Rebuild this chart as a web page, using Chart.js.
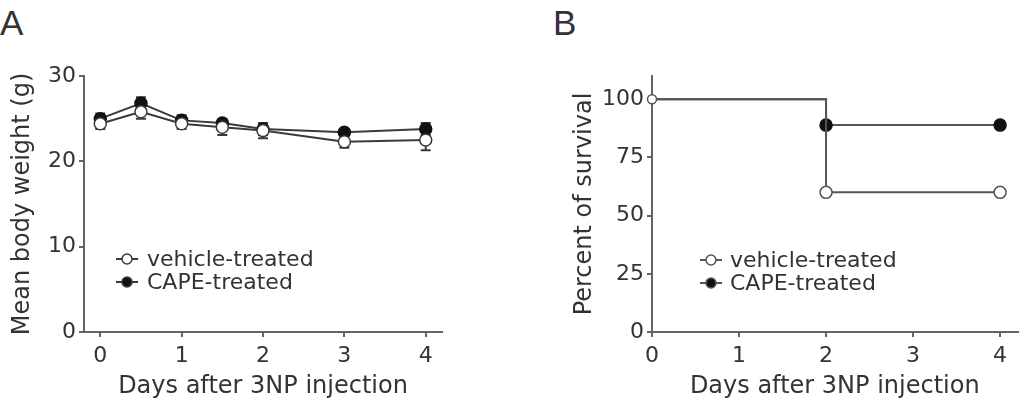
<!DOCTYPE html>
<html>
<head>
<meta charset="utf-8">
<script src="https://cdn.jsdelivr.net/npm/chart.js@4"></script>
<style>
  body { margin: 0; background: #fff; width: 1025px; height: 407px; position: relative; overflow: hidden; }
  .panel { position: absolute; top: 0; }
  .letter { position: absolute; font-family: "Liberation Sans", Arial, sans-serif; font-size: 35px; color: #333; line-height: 1; }
</style>
</head>
<body>
<div class="letter" style="left:0px; top:5px;">A</div>
<div class="letter" style="left:553px; top:5px;">B</div>
<canvas id="weightChart" class="panel" style="left:0px;" width="450" height="407"></canvas>
<canvas id="survivalChart" class="panel" style="left:540px;" width="485" height="407"></canvas>
<script>
// panel A: body weight
const weightDays = [0, 0.5, 1, 1.5, 2, 3, 4];
const vehicleWeight = [24.4, 25.8, 24.4, 24.0, 23.6, 22.3, 22.5];
const vehicleWeightErr = [0.6, 0.8, 0.6, 0.9, 0.9, 0.7, 1.2];
const capeWeight = [25.0, 26.8, 24.8, 24.5, 23.8, 23.4, 23.8];
const capeWeightErr = [0.6, 0.7, 0.6, 0.4, 0.7, 0.4, 0.7];
const weightXTicks = [0, 1, 2, 3, 4];
const weightYTicks = [0, 10, 20, 30];

// panel B: survival
const survivalDays = [0, 2, 4];
const vehicleSurvival = [100, 60, 60];
const capeSurvival = [100, 88.9, 88.9];
const survivalXTicks = [0, 1, 2, 3, 4];
const survivalYTicks = [0, 25, 50, 75, 100];

const seriesNames = ['vehicle-treated', 'CAPE-treated'];

const FONT = '"DejaVu Sans", sans-serif';
const TEXT = '#333';
const AXIS = '#5d6865';

function pts(xs, ys) {
  return xs.map((x, i) => ({x: x, y: ys[i]}));
}

// error bars drawn through the chart scales
const errorBars = {
  id: 'errorBars',
  beforeDatasetsDraw(chart) {
    const ctx = chart.ctx;
    const xs = chart.scales.x, ys = chart.scales.y;
    chart.data.datasets.forEach((ds) => {
      if (!ds.errors) return;
      ctx.save();
      ctx.strokeStyle = ds.borderColor;
      ctx.lineWidth = 2;
      ds.data.forEach((p, i) => {
        const px = xs.getPixelForValue(p.x);
        const top = ys.getPixelForValue(p.y + ds.errors[i]);
        const bot = ys.getPixelForValue(p.y - ds.errors[i]);
        ctx.beginPath();
        ctx.moveTo(px, top); ctx.lineTo(px, bot);
        ctx.moveTo(px - 5, top); ctx.lineTo(px + 5, top);
        ctx.moveTo(px - 5, bot); ctx.lineTo(px + 5, bot);
        ctx.stroke();
      });
      ctx.restore();
    });
  }
};

// legend inside the plot area
const innerLegend = {
  id: 'innerLegend',
  afterDraw(chart, args, opts) {
    const ctx = chart.ctx;
    ctx.save();
    chart.data.datasets.forEach((ds, i) => {
      const y = opts.y + i * opts.gap;
      const cx = opts.x;
      ctx.strokeStyle = ds.borderColor;
      ctx.lineWidth = 2;
      ctx.beginPath();
      ctx.moveTo(cx - 11, y); ctx.lineTo(cx + 11, y);
      ctx.stroke();
      ctx.beginPath();
      ctx.arc(cx, y, 5, 0, Math.PI * 2);
      ctx.fillStyle = ds.pointBackgroundColor;
      ctx.fill();
      ctx.lineWidth = 1.5;
      ctx.stroke();
      ctx.fillStyle = TEXT;
      ctx.font = '22px ' + FONT;
      ctx.textBaseline = 'middle';
      ctx.fillText(ds.label, opts.textX, y + 1);
    });
    ctx.restore();
  }
};

function axisOpts(min, max, ticks, title, fixedSize, horizontal, titlePad) {
  return {
    type: 'linear',
    min: min,
    max: max,
    afterBuildTicks: (s) => { s.ticks = ticks.map(v => ({value: v})); },
    afterFit: (s) => { if (horizontal) s.height = fixedSize; else s.width = fixedSize; },
    border: {display: true, color: AXIS, width: 2},
    grid: {display: true, drawOnChartArea: false, drawTicks: true, tickLength: 5, color: AXIS, lineWidth: 2},
    ticks: {color: TEXT, font: {family: FONT, size: 22}, padding: horizontal ? 6 : 3, maxRotation: 0, autoSkip: false},
    title: {
      display: true, text: title, color: TEXT, font: {family: FONT, size: 24},
      padding: horizontal ? {top: 0, bottom: titlePad} : {top: titlePad, bottom: 0}
    }
  };
}

new Chart(document.getElementById('weightChart'), {
  type: 'line',
  data: {
    datasets: [{
      label: seriesNames[0],
      data: pts(weightDays, vehicleWeight),
      errors: vehicleWeightErr,
      borderColor: '#3a3a3a',
      borderWidth: 2,
      pointBackgroundColor: '#fff',
      pointBorderColor: '#3a3a3a',
      pointBorderWidth: 1.5,
      pointRadius: 6
    }, {
      label: seriesNames[1],
      data: pts(weightDays, capeWeight),
      errors: capeWeightErr,
      borderColor: '#3a3a3a',
      borderWidth: 2,
      pointBackgroundColor: '#111',
      pointBorderColor: '#111',
      pointBorderWidth: 1.5,
      pointRadius: 6
    }]
  },
  options: {
    responsive: false,
    animation: false,
    layout: {padding: {top: 76, right: 8, left: 0, bottom: 0}},
    scales: {
      x: axisOpts(-0.2, 4.2, weightXTicks, 'Days after 3NP injection', 75, true, 6),
      y: axisOpts(0, 30, weightYTicks, 'Mean body weight (g)', 84, false, 8)
    },
    plugins: {
      legend: {display: false},
      tooltip: {enabled: false},
      innerLegend: {x: 127, textX: 147, y: 259, gap: 23}
    }
  },
  plugins: [errorBars, innerLegend]
});

new Chart(document.getElementById('survivalChart'), {
  type: 'line',
  data: {
    datasets: [{
      label: seriesNames[0],
      data: pts(survivalDays, vehicleSurvival),
      stepped: 'before',
      borderColor: '#4e5856',
      borderWidth: 2,
      pointBackgroundColor: '#fff',
      pointBorderColor: '#4e5856',
      pointBorderWidth: 1.5,
      pointRadius: [4.5, 6, 6]
    }, {
      label: seriesNames[1],
      data: pts(survivalDays, capeSurvival),
      stepped: 'before',
      borderColor: '#4e5856',
      borderWidth: 2,
      pointBackgroundColor: '#111',
      pointBorderColor: '#111',
      pointBorderWidth: 1.5,
      pointRadius: [0, 6, 6]
    }]
  },
  options: {
    responsive: false,
    animation: false,
    clip: false,
    layout: {padding: {top: 76, right: 0, left: 0, bottom: 0}},
    scales: {
      x: axisOpts(0, 4.2, survivalXTicks, 'Days after 3NP injection', 75, true, 6),
      y: axisOpts(0, 110, survivalYTicks, 'Percent of survival', 112, false, 30)
    },
    plugins: {
      legend: {display: false},
      tooltip: {enabled: false},
      innerLegend: {x: 171, textX: 190, y: 260, gap: 23}
    }
  },
  plugins: [innerLegend]
});
</script>
</body>
</html>
